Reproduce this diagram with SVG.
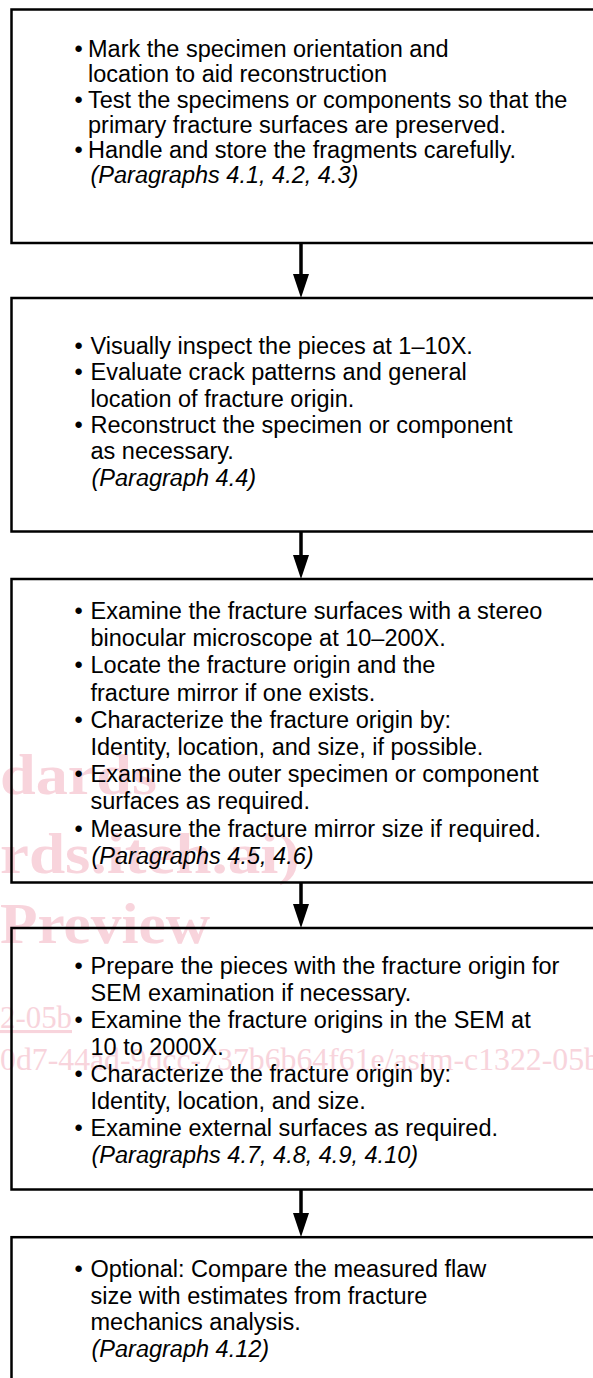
<svg xmlns="http://www.w3.org/2000/svg" width="593" height="1378" viewBox="0 0 593 1378">
<style>
.box{fill:none;stroke:#000;stroke-width:2.5}
.t{font-family:"Liberation Sans",Arial,Helvetica,sans-serif;font-size:23.5px;fill:#000}
.i{font-style:italic}
.wm{font-family:"Liberation Serif","Times New Roman",serif;fill:#f8d4dc}
.wb{font-weight:bold;font-size:58px}
.ws{font-size:31px}
.conn{stroke:#000;stroke-width:3.5;fill:none}
</style>
<defs>
<marker id="ah" viewBox="0 0 24 16" refX="7" refY="8" markerWidth="24" markerHeight="16" markerUnits="userSpaceOnUse" orient="auto">
<path d="M0,0 L24,8 L0,16 Z" fill="#000"/>
</marker>
</defs>
<rect x="0" y="0" width="593" height="1378" fill="#fff"/>
<g id="watermark">
<text class="wm wb" x="0" y="794" textLength="157" lengthAdjust="spacingAndGlyphs">dards</text>
<text class="wm wb" x="0" y="873" textLength="300" lengthAdjust="spacingAndGlyphs">rds.iteh.ai)</text>
<text class="wm wb" x="0" y="943" font-size="62" textLength="210" lengthAdjust="spacingAndGlyphs">Preview</text>
<text class="wm ws" x="0" y="1028" fill="#f0b8c5" text-decoration="underline" textLength="72" lengthAdjust="spacingAndGlyphs">2-05b</text>
<text class="wm ws" x="0" y="1070" textLength="600" lengthAdjust="spacingAndGlyphs">0d7-44ad-9dcc-737b6b64f61e/astm-c1322-05b</text>
</g>
<g id="connectors">
<line class="conn" x1="301" y1="244" x2="301" y2="281" marker-end="url(#ah)"/>
<line class="conn" x1="301" y1="532" x2="301" y2="562" marker-end="url(#ah)"/>
<line class="conn" x1="301" y1="883" x2="301" y2="911" marker-end="url(#ah)"/>
<line class="conn" x1="301" y1="1190" x2="301" y2="1220" marker-end="url(#ah)"/>
</g>
<g id="step1">
<rect class="box" x="11.5" y="9.5" width="600" height="233.5"/>
<text class="t" x="74.5" y="57.3">•</text>
<text class="t" x="88" y="57.3">Mark the specimen orientation and</text>
<text class="t" x="88" y="82.4">location to aid reconstruction</text>
<text class="t" x="74.5" y="107.5">•</text>
<text class="t" x="88" y="107.5">Test the specimens or components so that the</text>
<text class="t" x="88" y="132.6">primary fracture surfaces are preserved.</text>
<text class="t" x="74.5" y="157.7">•</text>
<text class="t" x="88" y="157.7">Handle and store the fragments carefully.</text>
<text class="t i" x="90.5" y="182.8">(Paragraphs 4.1, 4.2, 4.3)</text>
</g>
<g id="step2">
<rect class="box" x="11.5" y="298" width="600" height="233.5"/>
<text class="t" x="74.5" y="354">•</text>
<text class="t" x="90.5" y="354">Visually inspect the pieces at 1–10X.</text>
<text class="t" x="74.5" y="380.3">•</text>
<text class="t" x="90.5" y="380.3">Evaluate crack patterns and general</text>
<text class="t" x="90.5" y="406.6">location of fracture origin.</text>
<text class="t" x="74.5" y="432.9">•</text>
<text class="t" x="90.5" y="432.9">Reconstruct the specimen or component</text>
<text class="t" x="90.5" y="459.2">as necessary.</text>
<text class="t i" x="91.5" y="485.5">(Paragraph 4.4)</text>
</g>
<g id="step3">
<rect class="box" x="11.5" y="579" width="600" height="303.5"/>
<text class="t" x="74.5" y="619">•</text>
<text class="t" x="90.5" y="619">Examine the fracture surfaces with a stereo</text>
<text class="t" x="90.5" y="646.2">binocular microscope at 10–200X.</text>
<text class="t" x="74.5" y="673.4">•</text>
<text class="t" x="90.5" y="673.4">Locate the fracture origin and the</text>
<text class="t" x="90.5" y="700.6">fracture mirror if one exists.</text>
<text class="t" x="74.5" y="727.8">•</text>
<text class="t" x="90.5" y="727.8">Characterize the fracture origin by:</text>
<text class="t" x="90.5" y="755">Identity, location, and size, if possible.</text>
<text class="t" x="74.5" y="782.2">•</text>
<text class="t" x="90.5" y="782.2">Examine the outer specimen or component</text>
<text class="t" x="90.5" y="809.4">surfaces as required.</text>
<text class="t" x="74.5" y="836.6">•</text>
<text class="t" x="90.5" y="836.6">Measure the fracture mirror size if required.</text>
<text class="t i" x="91.5" y="863.8">(Paragraphs 4.5, 4.6)</text>
</g>
<g id="step4">
<rect class="box" x="11.5" y="928" width="600" height="261.5"/>
<text class="t" x="74.5" y="974">•</text>
<text class="t" x="90.5" y="974">Prepare the pieces with the fracture origin for</text>
<text class="t" x="90.5" y="1001">SEM examination if necessary.</text>
<text class="t" x="74.5" y="1028">•</text>
<text class="t" x="90.5" y="1028">Examine the fracture origins in the SEM at</text>
<text class="t" x="90.5" y="1055">10 to 2000X.</text>
<text class="t" x="74.5" y="1082">•</text>
<text class="t" x="90.5" y="1082">Characterize the fracture origin by:</text>
<text class="t" x="90.5" y="1109">Identity, location, and size.</text>
<text class="t" x="74.5" y="1136">•</text>
<text class="t" x="90.5" y="1136">Examine external surfaces as required.</text>
<text class="t i" x="91.5" y="1163">(Paragraphs 4.7, 4.8, 4.9, 4.10)</text>
</g>
<g id="step5">
<rect class="box" x="11.5" y="1237.2" width="600" height="200"/>
<text class="t" x="74.5" y="1277">•</text>
<text class="t" x="90.5" y="1277">Optional: Compare the measured flaw</text>
<text class="t" x="90.5" y="1303.7">size with estimates from fracture</text>
<text class="t" x="90.5" y="1330.4">mechanics analysis.</text>
<text class="t i" x="91.5" y="1357.1">(Paragraph 4.12)</text>
</g>
</svg>
